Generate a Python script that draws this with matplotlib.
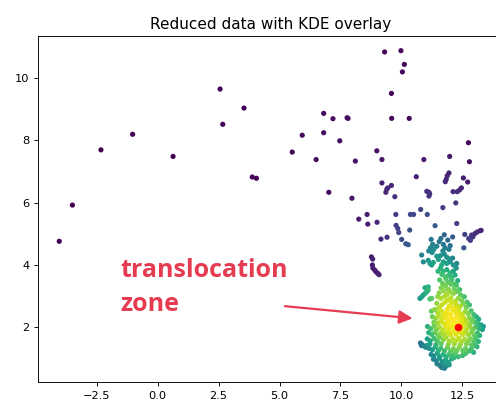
import numpy as np
import matplotlib
matplotlib.use("Agg")
import matplotlib.pyplot as plt

# sparse points
outer_pts = [
    (-2.33, 7.69), (-1.03, 8.19), (0.63, 7.48), (2.56, 9.64), (2.67, 8.51), (3.54, 9.03),
    (3.88, 6.82), (4.05, 6.78), (5.52, 7.62), (5.93, 8.16), (6.5, 7.38), (6.81, 8.86),
    (6.81, 8.24), (7.19, 8.69), (7.47, 7.98), (7.77, 8.72), (7.81, 8.70), (8.11, 7.33),
    (7.02, 6.33), (7.97, 6.14), (8.99, 7.66), (9.2, 7.38), (9.31, 10.83), (9.98, 10.87),
    (10.12, 10.43), (10.04, 10.19), (9.59, 9.5), (9.6, 8.7), (10.32, 8.7), (9.2, 6.63),
    (9.4, 6.43), (9.44, 6.47), (9.36, 6.33), (9.59, 6.55), (9.73, 6.19), (10.61, 6.83),
    (10.92, 7.38), (11.04, 6.36), (11.13, 6.33), (11.16, 6.28), (11.13, 6.21), (11.8, 6.67),
    (11.84, 6.75), (11.88, 6.86), (11.95, 6.95), (11.98, 7.48), (12.12, 6.35), (12.29, 6.35),
    (12.38, 6.4), (12.46, 6.47), (12.54, 6.79), (12.72, 6.66), (12.75, 7.92), (12.79, 7.31),
    (-3.5, 5.92), (-4.04, 4.76), (8.25, 5.47), (8.59, 5.62), (8.62, 5.31), (9.0, 5.37),
    (9.16, 4.83), (9.41, 4.89), (9.77, 5.62), (9.78, 5.27), (9.85, 5.17), (9.89, 5.04),
    (10.01, 4.82), (10.18, 4.68), (10.28, 4.65), (10.34, 5.12), (10.37, 5.62), (10.5, 5.62),
    (10.79, 5.78), (11.06, 5.62), (11.7, 5.84), (12.23, 5.99), (12.27, 5.33), (12.1, 4.9),
    (12.6, 4.98), (12.56, 4.55), (12.76, 4.85), (12.83, 4.79), (12.93, 4.9), (13.02, 5.01),
    (13.11, 5.06), (13.23, 5.1), (13.27, 5.11), (12.88, 4.96),
    (8.77, 4.26), (8.82, 4.19), (8.81, 4.0), (8.83, 3.9), (8.9, 3.84), (8.96, 3.78),
    (9.03, 3.73), (9.08, 3.69),
]

# the dense part near x~12, y~2
cluster_pts = [
    # stem
    (11.38, 5.26), (11.76, 4.97), (11.22, 4.82), (11.28, 4.66), (11.19, 4.55), (11.12, 4.45),
    (11.26, 4.4), (11.33, 4.5), (11.72, 4.66), (11.79, 4.55), (11.7, 4.45), (11.76, 4.35),
    (11.86, 4.25), (11.55, 4.75), (11.45, 4.6), (11.62, 4.85), (11.9, 4.8), (12.0, 4.62),
    (11.95, 4.5), (10.83, 4.32), (10.9, 4.1), (11.1, 4.15), (11.17, 4.05), (11.24, 4.0),
    (11.31, 4.08), (11.45, 4.28), (11.52, 4.18), (11.6, 4.3), (11.72, 4.1), (11.86, 4.05),
    (12.0, 4.1), (12.13, 4.0), (12.27, 4.05), (11.65, 4.0), (11.95, 4.2), (12.1, 4.22),
    (11.6, 3.9), (11.72, 3.8), (11.86, 3.85), (12.0, 3.75), (12.13, 3.8), (11.66, 3.7),
    (11.8, 3.62), (11.93, 3.66), (12.07, 3.6), (12.2, 3.68), (12.25, 3.9), (11.5, 3.8),
    # dark side branch
    (10.76, 2.93), (10.83, 2.98), (10.9, 3.04), (10.97, 3.09), (11.04, 3.14), (11.1, 3.2),
    (10.97, 3.27), (11.1, 3.3), (11.24, 2.93), (11.17, 2.91),
    # upper blob
    (11.57, 3.52), (11.69, 3.41), (11.83, 3.56), (11.91, 3.44), (12.06, 3.53), (12.18, 3.39),
    (12.31, 3.5), (11.63, 3.27), (11.81, 3.33), (11.93, 3.22), (12.04, 3.38), (12.17, 3.24),
    (12.26, 3.35), (12.39, 3.21), (11.55, 3.11), (11.74, 3.17), (11.87, 3.06), (11.99, 3.14),
    (12.14, 3.09), (12.29, 3.15), (12.43, 3.04), (11.49, 2.99), (11.61, 2.93), (11.77, 2.99),
    (11.9, 2.87), (12.03, 2.95), (12.21, 2.84), (12.33, 2.93), (12.47, 2.86), (12.58, 2.98),
    (12.69, 2.81), (11.45, 2.77), (11.66, 2.72), (11.79, 2.81), (11.96, 2.68), (12.07, 2.79),
    (12.26, 2.73), (12.41, 2.67), (12.53, 2.76), (12.66, 2.64), (12.79, 2.72), (11.54, 2.62),
    (11.88, 2.58), (12.14, 2.62),
    # middle rows
    (11.23, 2.52), (11.36, 2.57), (11.49, 2.46), (11.64, 2.53), (11.73, 2.41), (11.86, 2.49),
    (12.01, 2.43), (12.11, 2.56), (12.24, 2.45), (12.36, 2.52), (12.49, 2.42), (12.62, 2.51),
    (12.74, 2.44), (12.86, 2.53), (12.97, 2.41), (13.08, 2.34), (13.17, 2.26),
    (11.27, 2.34), (11.41, 2.29), (11.53, 2.36), (11.67, 2.27), (11.79, 2.33), (11.92, 2.24),
    (12.05, 2.31), (12.17, 2.22), (12.29, 2.33), (12.41, 2.24), (12.54, 2.32), (12.66, 2.23),
    (12.79, 2.3), (12.91, 2.25), (13.03, 2.17), (13.13, 2.12),
    (11.33, 2.16), (11.48, 2.13), (11.62, 2.19), (11.76, 2.11), (11.89, 2.18), (12.03, 2.12),
    (12.19, 2.17), (12.34, 2.13), (12.47, 2.19), (12.63, 2.14), (12.76, 2.09), (12.88, 2.16),
    (11.07, 2.03), (11.2, 1.96), (11.34, 2.04), (11.44, 1.93), (11.57, 2.0), (11.71, 1.92),
    (11.83, 2.03), (11.95, 1.95), (12.08, 2.04), (12.2, 1.96), (12.47, 1.99), (12.55, 2.07),
    (12.68, 1.94), (12.81, 2.02), (12.93, 1.93), (13.04, 2.01), (13.18, 1.97), (13.27, 2.08),
    (13.36, 2.03), (13.32, 1.93),
    (11.12, 1.83), (11.25, 1.77), (11.37, 1.84), (11.5, 1.75), (11.63, 1.82), (11.74, 1.76),
    (11.88, 1.84), (12.01, 1.77), (12.12, 1.86), (12.24, 1.78), (12.37, 1.85), (12.51, 1.77),
    (12.63, 1.84), (12.75, 1.76), (12.87, 1.83), (13.0, 1.75), (13.12, 1.82), (13.21, 1.74),
    (11.06, 1.63), (11.18, 1.57), (11.34, 1.64), (11.47, 1.56), (11.56, 1.68), (11.72, 1.6),
    (11.84, 1.67), (11.97, 1.55), (12.1, 1.63), (12.23, 1.57), (12.35, 1.65), (12.47, 1.55),
    (12.6, 1.62), (12.73, 1.56), (12.84, 1.63), (12.97, 1.57), (13.06, 1.67), (13.16, 1.55),
    (11.17, 1.47), (11.42, 1.45), (11.63, 1.48), (11.92, 1.45), (12.17, 1.47), (12.42, 1.45),
    (12.67, 1.47), (12.88, 1.44), (13.03, 1.42),
    (12.22, 2.07), (12.46, 1.88), (12.12, 2.27), (12.44, 2.28), (12.31, 2.39),
    (12.28, 2.6), (11.95, 2.05), (11.85, 2.4),
    # left bulge + lower rows
    (10.78, 1.5), (10.85, 1.45), (10.92, 1.4), (11.0, 1.36), (11.05, 1.42), (10.82, 1.42),
    (11.13, 1.33), (11.27, 1.28), (11.39, 1.37), (11.52, 1.26), (11.61, 1.33), (11.77, 1.25),
    (11.89, 1.36), (12.02, 1.24), (12.13, 1.31), (12.27, 1.25), (12.37, 1.36), (12.52, 1.25),
    (12.63, 1.32), (12.77, 1.24), (12.87, 1.31), (12.96, 1.2), (13.1, 1.38),
    (11.22, 1.13), (11.33, 1.08), (11.47, 1.17), (11.57, 1.06), (11.71, 1.13), (11.84, 1.06),
    (11.96, 1.14), (12.09, 1.08), (12.21, 1.18), (12.33, 1.06), (12.51, 1.1), (12.63, 1.16),
    (11.31, 0.98), (11.43, 0.93), (11.56, 1.01), (11.67, 0.9), (11.81, 0.96), (11.93, 0.88),
    (12.06, 0.99), (12.16, 1.03), (11.46, 0.83), (11.59, 0.78), (11.71, 0.86), (11.83, 0.76),
    (11.96, 0.8), (11.66, 0.71), (11.77, 0.69), (11.61, 0.75),
]

peak = (12.33, 2.02)
label_text = "translocation\nzone"
title = "Reduced data with KDE overlay"

pts = np.array(outer_pts + cluster_pts).T
x, y = pts

# gaussian kde, scott bandwidth widened a little
n = pts.shape[1]
factor = 1.15 * n ** (-1.0 / 6)
cov = np.cov(pts) * factor ** 2
inv = np.linalg.inv(cov)
diff = pts[:, :, None] - pts[:, None, :]
d2 = np.einsum("ij,jkl,ikl->kl", inv, diff, diff)
z = np.exp(-0.5 * d2).sum(axis=1)
order = z.argsort()
x, y, z = x[order], y[order], z[order]

plt.rcParams["font.size"] = 8.2
plt.rcParams["axes.linewidth"] = 0.66
plt.rcParams["xtick.major.width"] = 0.66
plt.rcParams["ytick.major.width"] = 0.66
plt.rcParams["xtick.major.size"] = 2.9
plt.rcParams["ytick.major.size"] = 2.9

fig = plt.figure(figsize=(4.96, 4.07), dpi=100)
ax = fig.add_axes([0.0772, 0.0607, 0.9385, 0.8508])
ax.scatter(x, y, c=z, cmap="viridis", s=14, linewidths=0)
ax.scatter([peak[0]], [peak[1]], color="red", s=30, linewidths=0)

ax.set_xlim(-4.9, 14.2)
ax.set_ylim(0.24, 11.34)
ax.set_title(title, fontsize=11, pad=5)

red = "#e63c52"
ax.text(-1.55, 4.22, label_text, color=red, fontsize=18, fontweight="bold",
        family="Open Sans", va="top", ha="left", linespacing=1.45)
ax.annotate("", xy=(10.46, 2.29), xytext=(5.22, 2.68),
            arrowprops=dict(arrowstyle="-|>", color=red, lw=1.6,
                            mutation_scale=20, shrinkA=0, shrinkB=0))

fig.savefig("out.png", dpi=100)
